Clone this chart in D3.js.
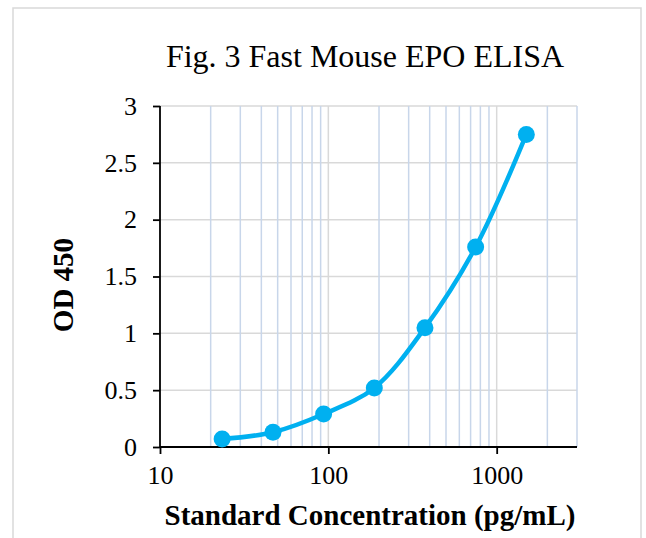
<!DOCTYPE html>
<html><head><meta charset="utf-8">
<script src="https://cdn.jsdelivr.net/npm/d3@7/dist/d3.min.js"></script>
<style>html,body{margin:0;padding:0;background:#fff;}svg{display:block;}</style>
</head><body>
<svg id="c" width="646" height="538"></svg>
<script>
const concentrations = [23.4, 46.9, 93.75, 187.5, 375, 750, 1500];
const odValues = [0.07, 0.13, 0.29, 0.52, 1.05, 1.76, 2.75];
const xTickLabels = [10, 100, 1000];
const yTickLabels = [0, 0.5, 1, 1.5, 2, 2.5, 3];
const minorGrid = [20,30,40,50,60,70,80,90,200,300,400,500,600,700,800,900,2000,3000];
const majorGrid = [100, 1000];
const title = "Fig. 3 Fast Mouse EPO ELISA";
const xTitle = "Standard Concentration (pg/mL)";
const yTitle = "OD 450";

const svg = d3.select("#c");
const font = "'Liberation Serif','Times New Roman',serif";
const L = 160, R = 577, T = 106, B = 447;
const x = d3.scaleLog().domain([10, 3000]).range([L, R]);
const y = d3.scaleLinear().domain([0, 3]).range([B, T]);

svg.append("rect").attr("x", 13).attr("y", 8).attr("width", 628).attr("height", 540)
  .attr("fill", "#fff").attr("stroke", "#d9d9d9").attr("stroke-width", 1.5);

svg.append("text").attr("x", 365).attr("y", 67).attr("text-anchor", "middle")
  .attr("font-family", font).attr("font-size", 32).attr("fill", "#000").text(title);

// horizontal gridlines
svg.append("g").selectAll("line").data(yTickLabels.filter(d => d > 0)).join("line")
  .attr("x1", L).attr("x2", R).attr("y1", d => y(d)).attr("y2", d => y(d))
  .attr("stroke", "#d9d9d9").attr("stroke-width", 1.5);
// minor vertical gridlines
svg.append("g").selectAll("line").data(minorGrid).join("line")
  .attr("x1", d => x(d)).attr("x2", d => x(d)).attr("y1", T).attr("y2", B)
  .attr("stroke", "#c8d6ea").attr("stroke-width", 1.5);
// major vertical gridlines
svg.append("g").selectAll("line").data(majorGrid).join("line")
  .attr("x1", d => x(d)).attr("x2", d => x(d)).attr("y1", T).attr("y2", B)
  .attr("stroke", "#d9d9d9").attr("stroke-width", 1.5);

// y axis
const yAxis = svg.append("g").attr("transform", `translate(${L},0)`)
  .call(d3.axisLeft(y).tickValues(yTickLabels).tickSize(7).tickPadding(16).tickFormat(d3.format("")));
yAxis.select(".domain").attr("stroke", "#000").attr("stroke-width", 1.8).attr("d", `M0,${T}V${B}`);
yAxis.selectAll(".tick line").attr("stroke", "#000").attr("stroke-width", 1.8);
yAxis.selectAll(".tick text").attr("font-family", font).attr("font-size", 26).attr("fill", "#000");

// x axis
const xAxis = svg.append("g").attr("transform", `translate(0,${B})`)
  .call(d3.axisBottom(x).tickValues(xTickLabels).tickSize(7).tickPadding(12).tickFormat(d3.format("")));
xAxis.select(".domain").attr("stroke", "#000").attr("stroke-width", 1.8).attr("d", `M${L},0H${R}`);
xAxis.selectAll(".tick line").attr("stroke", "#000").attr("stroke-width", 1.8);
xAxis.selectAll(".tick text").attr("font-family", font).attr("font-size", 26).attr("fill", "#000");

// titles
svg.append("text").attr("x", 370).attr("y", 525).attr("text-anchor", "middle")
  .attr("font-family", font).attr("font-weight", "bold").attr("font-size", 29).attr("fill", "#000").text(xTitle);
svg.append("text").attr("transform", "translate(73,285) rotate(-90)").attr("text-anchor", "middle")
  .attr("font-family", font).attr("font-weight", "bold").attr("font-size", 29).attr("fill", "#000").text(yTitle);

// series
const pts = concentrations.map((c, i) => [c, odValues[i]]);
const line = d3.line().x(d => x(d[0])).y(d => y(d[1])).curve(d3.curveCatmullRom.alpha(0.5));
svg.append("path").attr("d", line(pts)).attr("fill", "none").attr("stroke", "#00b0f0")
  .attr("stroke-width", 4.5).attr("stroke-linecap", "round");
svg.append("g").selectAll("circle").data(pts).join("circle")
  .attr("cx", d => x(d[0])).attr("cy", d => y(d[1])).attr("r", 8.5).attr("fill", "#00b0f0");
</script>
</body></html>
